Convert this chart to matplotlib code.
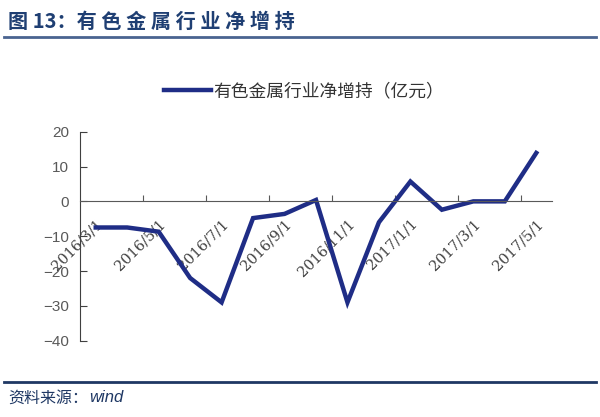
import numpy as np
import matplotlib.pyplot as plt
from matplotlib.lines import Line2D

plt.rcParams['font.family'] = ['Noto Sans CJK SC', 'DejaVu Sans']

# data: monthly net increase of holdings, 2016/3 - 2017/5 (亿元)
months = ['2016/3/1', '2016/4/1', '2016/5/1', '2016/6/1', '2016/7/1',
          '2016/8/1', '2016/9/1', '2016/10/1', '2016/11/1', '2016/12/1',
          '2017/1/1', '2017/2/1', '2017/3/1', '2017/4/1', '2017/5/1']
values = [-7.5, -7.5, -8.7, -22.0, -29.0, -4.8, -3.6, 0.4,
          -29.0, -6.0, 5.7, -2.4, 0.0, 0.0, 13.9]
yticks = [20, 10, 0, -10, -20, -30, -40]

series_name = '有色金属行业净增持（亿元）'
title = '图 13：有 色 金 属 行 业 净 增 持'
source_cn = '资料来源：'
source_en = 'wind'

fig = plt.figure(figsize=(6, 4.17), dpi=100)
ax = fig.add_axes([80 / 600, 1 - 340.7 / 417, (552 - 80) / 600, (340.7 - 131.7) / 417])

x = np.arange(len(months))
line, = ax.plot(x, values, color='#1f2d86', lw=3.2, solid_joinstyle='miter',
                label=series_name)

ax.set_xlim(-0.5, len(months) - 0.5)
ax.set_ylim(-40, 20)

# spines
for s in ['top', 'right']:
    ax.spines[s].set_visible(False)
ax.spines['bottom'].set_position(('data', 0))
ax.spines['bottom'].set_color('#595959')
ax.spines['left'].set_color('#404040')

# y axis
ax.set_yticks(yticks)
ax.tick_params(axis='y', direction='in', length=5, color='#404040',
               labelsize=11, labelcolor='#595959', pad=8)
for lab in ax.get_yticklabels():
    lab.set_family(['Liberation Sans', 'DejaVu Sans'])

# x axis: tick marks between categories, labels every 2 months
ax.set_xticks(np.arange(1.5, len(months) - 1, 2))
ax.set_xticks(x[::2], minor=True)
ax.set_xticklabels([], minor=False)
ax.set_xticklabels([months[i] for i in x[::2]], minor=True)
ax.tick_params(axis='x', which='major', direction='in', length=4, color='#595959')
ax.tick_params(axis='x', which='minor', length=0, pad=11,
               labelsize=10.5, labelcolor='#404040')
for lab in ax.get_xticklabels(minor=True):
    lab.set_rotation(45)
    lab.set_ha('right')
    lab.set_rotation_mode('anchor')
    lab.set_family('DejaVu Serif')

# legend
leg = ax.legend(handles=[line], loc='center', bbox_to_anchor=(0.507, 1 - 91.7 / 417),
                bbox_transform=fig.transFigure, frameon=False, fontsize=12.8,
                handlelength=2.65, handletextpad=0.15)
for t in leg.get_texts():
    t.set_color('#333333')

# title, rules and source
fig.text(8 / 600, 1 - 21 / 417, title, fontsize=14.5, fontweight='bold',
         color='#1f3f73', va='center', ha='left')
fig.add_artist(Line2D([4 / 600, 596 / 600], [1 - 37 / 417] * 2,
                      transform=fig.transFigure, color='#4a6490', lw=2))
fig.add_artist(Line2D([4 / 600, 596 / 600], [1 - 382 / 417] * 2,
                      transform=fig.transFigure, color='#1f3864', lw=2))
fig.text(8 / 600, 1 - 398 / 417, source_cn, fontsize=11.5,
         color='#1f3864', va='center', ha='left')
fig.text(89 / 600, 1 - 398 / 417, source_en, fontsize=12, style='italic',
         family=['Liberation Sans', 'DejaVu Sans'],
         color='#1f3864', va='center', ha='left')

fig.savefig('out.png', dpi=100)
